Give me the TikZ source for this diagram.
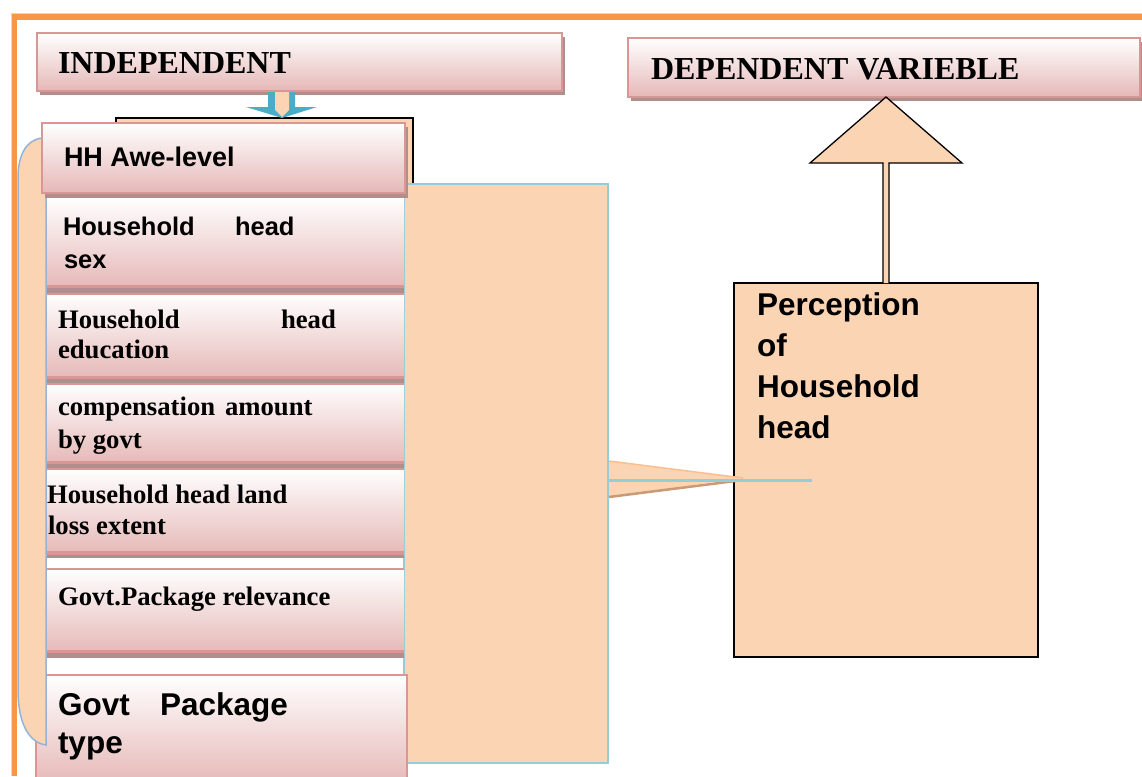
\documentclass[tikz,border=0pt]{standalone}
\usepackage{fontspec}
\setmainfont{Liberation Serif}
\setsansfont{Liberation Sans}
\usetikzlibrary{calc}
\definecolor{peach}{HTML}{FBD4B4}
\definecolor{roseline}{HTML}{D99694}
\definecolor{rosefill}{HTML}{E5B8B7}
\definecolor{shadowc}{HTML}{AE8F8E}
\definecolor{lblue}{HTML}{92CDDC}
\definecolor{brblue}{HTML}{95B3D7}
\definecolor{arrblue}{HTML}{4BACC6}
\definecolor{frameor}{HTML}{F79646}
\definecolor{peachedge}{HTML}{FABF8F}
\definecolor{peachdark}{HTML}{C99A76}
\begin{document}
\begin{tikzpicture}[x=1pt,y=-1pt,
  every node/.style={inner sep=0pt, outer sep=0pt},
  hdr/.style={draw=roseline, line width=2pt, top color=white, bottom color=rosefill, anchor=north west},
  rowfill/.style={top color=white, bottom color=rosefill, anchor=north west, minimum width=358pt},
  peachbox/.style={fill=peach, anchor=north west},
  sertxt/.style={anchor=base west, font=\fontsize{26.7}{31}\selectfont\rmfamily\bfseries},
  santxt/.style={anchor=base west, font=\fontsize{25.5}{30}\selectfont\sffamily\bfseries},
  bigsan/.style={anchor=base west, font=\fontsize{31.5}{36}\selectfont\sffamily\bfseries},
  headtxt/.style={anchor=base west, font=\fontsize{32}{38}\selectfont\rmfamily\bfseries}]
\useasboundingbox (0,0) rectangle (1142,776);
\fill[white] (0,0) rectangle (1142,776);
% frame
\fill[frameor] (11,14) rectangle (1142,20);
\fill[frameor] (11,14) rectangle (17,776);
\draw[yellow, line width=1pt] (11,13.5) -- (1142,13.5);
\draw[yellow, line width=1pt] (11.5,13.5) -- (11.5,776);
% black box behind HH
\node[peachbox, draw=black, line width=1.5pt, minimum width=297pt, minimum height=200pt] (back) at (116,118) {};
% big peach box
\node[peachbox, draw=lblue, line width=2.5pt, minimum width=204pt, minimum height=579pt] (big) at (404,184) {};
% rows
\node[rowfill, minimum height=91pt] (r1) at (46,197) {};
\fill[roseline] (46,285) rectangle (404,288);
\fill[shadowc] (46,288) rectangle (404,293);
\node[rowfill, minimum height=86pt] (r2) at (46,293) {};
\fill[roseline] (46,293) rectangle (404,294.5);
\fill[roseline] (46,376) rectangle (404,379);
\fill[shadowc] (46,379) rectangle (404,383);
\node[rowfill, minimum height=81pt] (r3) at (46,383) {};
\fill[roseline] (46,383) rectangle (404,384.5);
\fill[roseline] (46,461) rectangle (404,464);
\fill[shadowc] (46,464) rectangle (404,468);
\node[rowfill, minimum height=87pt] (r4) at (46,468) {};
\fill[roseline] (46,468) rectangle (404,469.5);
\fill[roseline] (46,551) rectangle (404,555);
\fill[shadowc] (46,555) rectangle (404,558);
\node[rowfill, minimum height=85pt] (r5) at (46,568) {};
\fill[roseline] (46,568) rectangle (404,570);
\fill[roseline] (46,650) rectangle (404,653);
\fill[shadowc] (46,653) rectangle (404,658);
\node[hdr, minimum width=371pt, minimum height=110pt] (r6) at (36,675) {};
% bracket
\draw[brblue, line width=1.5pt, fill=peach] (46,745) -- (46,138) -- (42,138)
  .. controls (26,140) and (18,155) .. (18,178) -- (18,690)
  .. controls (18,725) and (30,743) .. (46,745) -- cycle;
% HH box
\fill[shadowc] (45,127) rectangle (408,198);
\node[hdr, minimum width=363pt, minimum height=70pt] (hh) at (42,123) {};
% INDEPENDENT box
\fill[shadowc] (40,37) rectangle (565,95);
\node[hdr, minimum width=525pt, minimum height=58pt] (indep) at (37,33) {};
% down arrow
\fill[arrblue] (268,92) -- (295,92) -- (295,107) -- (317,107) -- (282,118) -- (246,107) -- (268,107) -- cycle;
\fill[peach] (275,92) -- (289,92) -- (289,110) -- (282,117) -- (275,110) -- cycle;
% DEPENDENT box
\fill[shadowc] (631,42) rectangle (1143,101);
\node[hdr, minimum width=512pt, minimum height=59pt] (dep) at (628,38) {};
% perception box
\node[peachbox, draw=black, line width=1.5pt, minimum width=304pt, minimum height=374pt] (perc) at (734,283) {};
% up arrow
\draw[black, line width=1.3pt, fill=peach, line join=miter]
  ($(perc.north)+(-3,0)$) -- ++(0,-120) -- ++(-73,0) -- (886,97) -- ++(76,66) -- ++(-73,0) -- ($(perc.north)+(3,0)$);
% connector
\coordinate (c1) at (608,480);
\coordinate (c2) at (812,480);
\fill[peach] (609,461) -- (743,478) -- (609,497) -- cycle;
\draw[peachedge, line width=1.5pt] (609,461) -- (743,478);
\draw[peachdark, line width=2.5pt] (609,497) -- (743,480);
\draw[lblue, line width=3pt] (c1) -- (c2);
% texts
\node[headtxt] (tindep) at (58,74) {INDEPENDENT};
\node[headtxt] (tdep) at (651,79) {DEPENDENT VARIEBLE};
\node[anchor=base west, font=\fontsize{27}{32}\selectfont\sffamily\bfseries] (thh) at (64,166) {HH Awe-level};
\node[santxt] (t1a) at (63,235) {Household};
\node[santxt] (t1b) at (235,235) {head};
\node[santxt] (t1c) at (64,268) {sex};
\node[sertxt] (t2a) at (58,328) {Household};
\node[sertxt] (t2b) at (281,328) {head};
\node[sertxt] (t2c) at (58,358) {education};
\node[sertxt] (t3a) at (58,415) {compensation};
\node[sertxt] (t3b) at (225,415) {amount};
\node[sertxt] (t3c) at (58,448) {by govt};
\node[sertxt] (t4a) at (47,503) {Household head land};
\node[sertxt] (t4b) at (48,534) {loss extent};
\node[sertxt] (t5) at (58,605) {Govt.Package relevance};
\node[bigsan] (t6a) at (58,715) {Govt};
\node[bigsan] (t6b) at (160,715) {Package};
\node[bigsan] (t6c) at (58,753) {type};
\node[bigsan] (p1) at (757,315) {Perception};
\node[bigsan] (p2) at (757,356) {of};
\node[bigsan] (p3) at (757,397) {Household};
\node[bigsan] (p4) at (757,438) {head};
\end{tikzpicture}
\end{document}
